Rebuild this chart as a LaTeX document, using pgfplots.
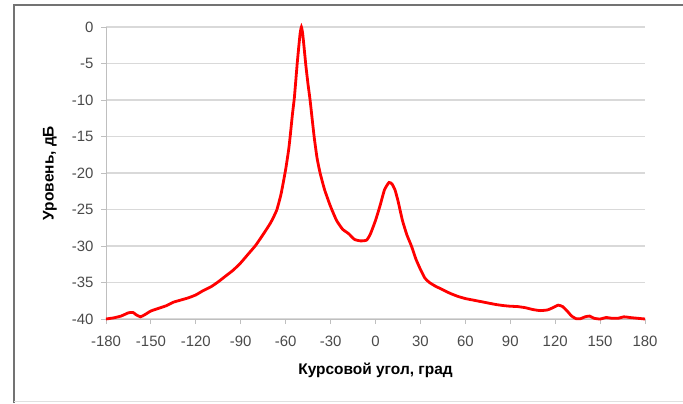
\documentclass[border=0pt]{standalone}
\usepackage{fontspec}
\setmainfont{Liberation Sans}
\usepackage{pgfplots}
\pgfplotsset{compat=1.18}
\definecolor{ticktxt}{HTML}{4A4A4A}
\definecolor{gridc}{HTML}{D9D9D9}
\definecolor{axc}{HTML}{BFBFBF}
\begin{document}
\begin{tikzpicture}[x=1bp,y=1bp]
\path[use as bounding box] (0,0) rectangle (683,403);
\draw[color=black!55, line width=1.3bp] (14,0) -- (14,398) -- (683,398);
\draw[color=black!12, line width=0.8bp] (14,1.5) -- (683,1.5);
\begin{axis}[
  at={(106bp,84bp)}, anchor=south west,
  scale only axis, width=539bp, height=292bp,
  xmin=-180, xmax=180, ymin=-40, ymax=0,
  xtick={-180,-150,...,180}, ytick={-40,-35,...,0},
  axis lines*=left,
  axis line style={color=axc, line width=1bp},
  tick align=outside,
  major tick length=5bp,
  tick style={color=axc, line width=1bp},
  ymajorgrids,
  grid style={color=gridc, line width=1.6bp},
  clip=false,
  /pgf/number format/assume math mode=true,
  ticklabel style={font=\fontsize{15}{17}\selectfont, text=ticktxt},
  xticklabel style={yshift=-9bp},
  yticklabel style={xshift=-4bp},
  xlabel={Курсовой угол, град},
  ylabel={Уровень, дБ},
  xlabel style={font=\fontsize{15.5}{17}\selectfont\bfseries, at={(axis description cs:0.5,-0.1747)}, anchor=center},
  ylabel style={font=\fontsize{15.5}{17}\selectfont\bfseries, at={(axis description cs:-0.1039,0.5)}, anchor=center},
]
\addplot[color=red, line width=2.8bp, smooth, tension=0.3] coordinates {
(-180,-40) (-175,-39.85) (-170,-39.6) (-165,-39.15) (-162,-39.1) (-160,-39.4)
(-157,-39.7) (-154,-39.4) (-150,-38.9) (-145,-38.55) (-140,-38.2) (-135,-37.7)
(-130,-37.4) (-125,-37.1) (-120,-36.7) (-115,-36.1) (-110,-35.6) (-105,-34.9)
(-100,-34.1) (-95,-33.3) (-90,-32.3) (-85,-31.1) (-80,-29.9) (-75,-28.4)
(-70,-26.8) (-66,-25.1) (-63,-22.8) (-60,-19.5) (-58,-16.8) (-57,-15)
(-55.5,-12) (-54.2,-9.7) (-53.3,-7.5) (-52.3,-5) (-51.2,-2.6) (-50.3,-0.8)
(-49.5,0) (-48.7,-0.8) (-47.7,-2.8) (-46.5,-5.3) (-45.1,-7.8) (-43.7,-10)
(-41,-15) (-39,-18) (-37,-20)
(-34,-22.3) (-30,-24.6) (-26,-26.5) (-22,-27.7) (-18,-28.3) (-14,-29.1)
(-10,-29.3) (-6,-29.2) (-3.5,-28.4) (0,-26.5) (3,-24.5) (6,-22.3)
(9,-21.3) (11,-21.5) (13,-22.3) (15,-23.8) (18,-26.5) (21,-28.5)
(24,-30) (27,-31.8) (30,-33.2) (33,-34.4) (36,-35.0) (40,-35.5)
(45,-36.0) (50,-36.5) (55,-36.9) (60,-37.2) (65,-37.4) (70,-37.6)
(75,-37.8) (80,-38.0) (85,-38.15) (90,-38.25) (95,-38.3) (100,-38.45)
(105,-38.7) (110,-38.85) (115,-38.75) (119,-38.4) (122,-38.1) (125,-38.3)
(128,-38.9) (131,-39.6) (134,-39.95) (137,-39.95) (140,-39.7) (143,-39.6)
(146,-39.9) (150,-40) (154,-39.8) (158,-39.9) (162,-39.9) (166,-39.7)
(170,-39.8) (175,-39.9) (180,-40)
};
\end{axis}
\end{tikzpicture}
\end{document}
